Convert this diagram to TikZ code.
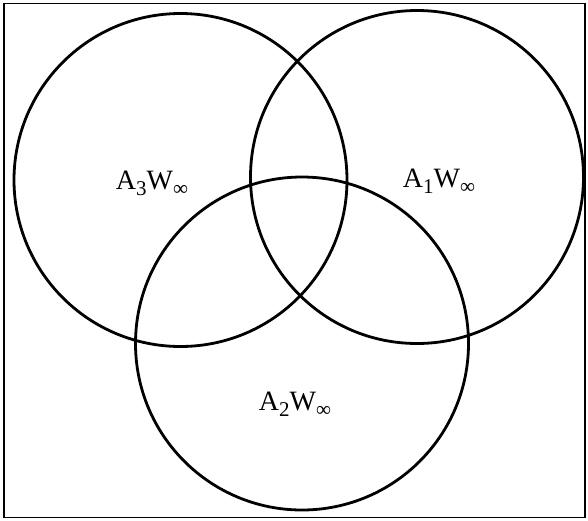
\documentclass[tikz,border=0pt]{standalone}
\usepackage{fontspec}
\setmainfont{Liberation Serif}
\usepackage{tikz}
\usetikzlibrary{positioning}
\newcommand\lsub[1]{\raisebox{-0.22em}{\fontsize{21}{24}\selectfont #1}}

\begin{document}
\begin{tikzpicture}[x=1pt,y=1pt,
  ring/.style={draw,circle,line width=2.8pt,minimum size=333pt,inner sep=0pt},
  lbl/.style={font=\fontsize{28}{32}\selectfont,inner sep=0pt}]
  \useasboundingbox (0,0) rectangle (588,-520);
  \node[draw,line width=1.4pt,minimum width=581pt,minimum height=514pt,inner sep=0pt] (frame) at (294.5,-260.5) {};
  \node[ring] (c3) at (180.5,-180) {};
  \node[ring] (c1) at (417,-177) {};
  \node[ring] (c2) at (302,-343.5) {};
  \node[lbl] (l3) at (152,-183) {A\lsub{3}W\lsub{∞}};
  \node[lbl] (l1) at (439,-181) {A\lsub{1}W\lsub{∞}};
  \node[lbl] (l2) at (295,-404) {A\lsub{2}W\lsub{∞}};
\end{tikzpicture}
\end{document}
